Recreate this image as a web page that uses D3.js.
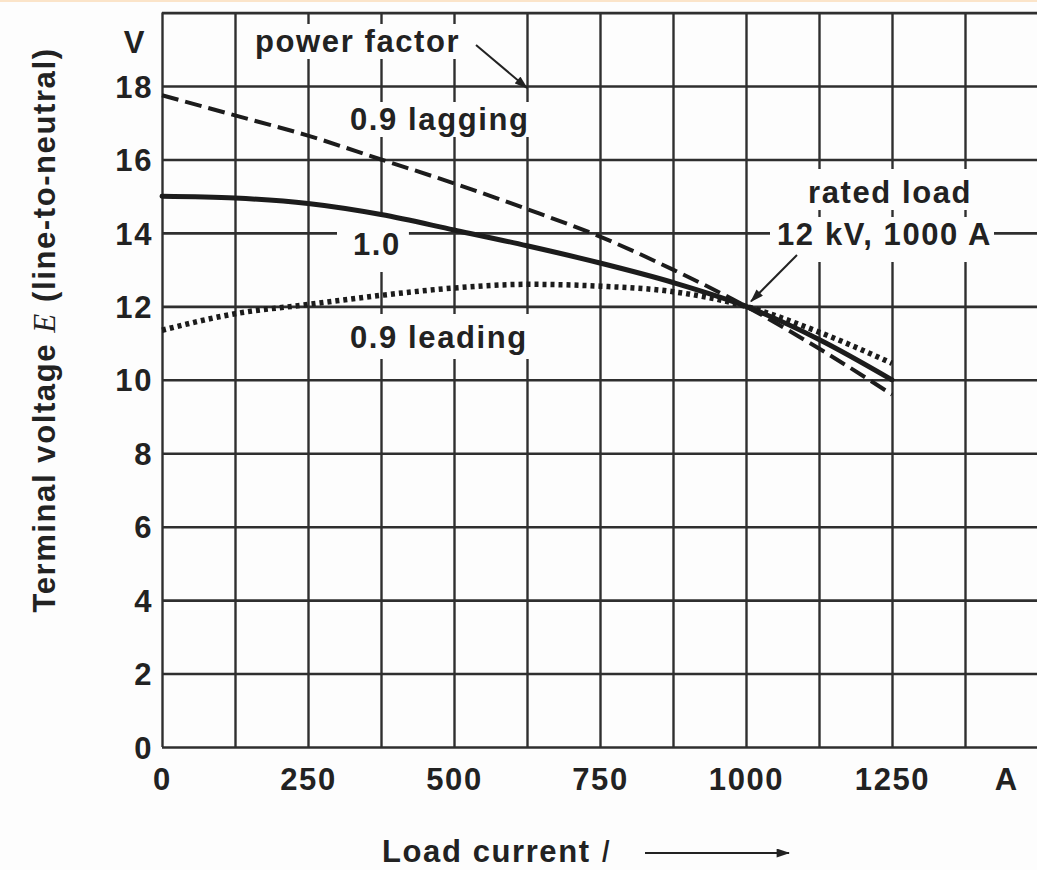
<!DOCTYPE html>
<html>
<head>
<meta charset="utf-8">
<script src="https://cdn.jsdelivr.net/npm/d3@7"></script>
<style>
  html, body { margin: 0; padding: 0; background: #fdfdfd; }
  svg { display: block; }
  text { font-family: "Liberation Sans", Arial, Helvetica, sans-serif; font-weight: bold; fill: #222; }
</style>
</head>
<body>
<svg id="chart" width="1037" height="870"></svg>
<script>
// ---- data ----
const currents = [0, 125, 250, 375, 500, 625, 750, 875, 1000, 1125, 1250];          // A
const lagging  = [17.75, 17.2, 16.65, 16.0, 15.35, 14.65, 13.9, 13.0, 12.0, 10.85, 9.6]; // pf 0.9 lagging (kV)
const unity    = [15.0, 14.95, 14.8, 14.5, 14.08, 13.65, 13.18, 12.65, 12.0, 11.1, 10.0]; // pf 1.0
const leading  = [11.35, 11.8, 12.05, 12.3, 12.5, 12.6, 12.55, 12.4, 12.0, 11.3, 10.45];  // pf 0.9 leading
const xGrid = [0, 125, 250, 375, 500, 625, 750, 875, 1000, 1125, 1250, 1375];
const yGrid = [0, 2, 4, 6, 8, 10, 12, 14, 16, 18, 20];
const xTickLabels = [0, 250, 500, 750, 1000, 1250];
const yTickLabels = [0, 2, 4, 6, 8, 10, 12, 14, 16, 18];
const ratedPoint = { current: 1000, voltage: 12 };

// ---- scales ----
const x = d3.scaleLinear().domain([0, 1500]).range([162, 1038]);
const y = d3.scaleLinear().domain([0, 20]).range([747, 12.6]);

const svg = d3.select("#chart");
svg.append("rect").attr("x", 0).attr("y", 0).attr("width", 1037).attr("height", 870).attr("fill", "#fdfdfd");
svg.append("rect").attr("x", 0).attr("y", 0).attr("width", 1037).attr("height", 2).attr("fill", "#fbe4c9");

const defs = svg.append("defs");
defs.append("marker").attr("id", "arrow").attr("viewBox", "0 0 12 8")
  .attr("refX", 11).attr("refY", 4).attr("markerWidth", 14).attr("markerHeight", 9)
  .attr("markerUnits", "userSpaceOnUse").attr("orient", "auto")
  .append("path").attr("d", "M0,0 L12,4 L0,8 Z").attr("fill", "#222");

// ---- grid via axes ----
const gridColor = "#2f2f2f";
const gx = svg.append("g").attr("transform", `translate(0,${y(0)})`)
  .call(d3.axisBottom(x).tickValues(xGrid).tickSize(-(y(0) - y(20))).tickFormat(""));
gx.select(".domain").remove();
gx.selectAll("line").attr("stroke", gridColor).attr("stroke-width", 2.4);

const gy = svg.append("g").attr("transform", `translate(${x(0)},0)`)
  .call(d3.axisLeft(y).tickValues(yGrid).tickSize(-(1037 - x(0))).tickFormat(""));
gy.select(".domain").remove();
gy.selectAll("line").attr("stroke", gridColor).attr("stroke-width", 2.6);

// ---- tick labels via axes ----
const FS = 31;
const LS = "1.6px";
const ax = svg.append("g").attr("transform", `translate(0,${y(0)})`)
  .call(d3.axisBottom(x).tickValues(xTickLabels).tickSize(0).tickPadding(0).tickFormat(d3.format("d")));
ax.select(".domain").remove();
ax.selectAll("text").attr("y", 43).attr("dy", null).attr("font-size", FS)
  .style("font-family", "'Liberation Sans', Arial, sans-serif").style("font-weight", "bold")
  .style("letter-spacing", LS).attr("fill", "#222");

const ay = svg.append("g").attr("transform", `translate(${x(0)},0)`)
  .call(d3.axisLeft(y).tickValues(yTickLabels).tickSize(0).tickPadding(0).tickFormat(d3.format("d")));
ay.select(".domain").remove();
ay.selectAll("text").attr("x", -9).attr("dy", "0.36em").attr("font-size", FS)
  .style("font-family", "'Liberation Sans', Arial, sans-serif").style("font-weight", "bold")
  .style("letter-spacing", LS).attr("fill", "#222");

// unit labels
svg.append("text").attr("x", x(1445)).attr("y", 790).attr("text-anchor", "middle")
  .attr("font-size", FS).text("A");
svg.append("text").attr("x", 134).attr("y", y(19.17) + 10).attr("text-anchor", "middle")
  .attr("font-size", FS).text("V");

// ---- label helper with white knock-out boxes ----
const boxLayer = svg.append("g");
const curveLayer = svg.append("g");
const labelLayer = svg.append("g");

function label(txt, px, py, pad) {
  const t = labelLayer.append("text").attr("x", px).attr("y", py)
    .attr("font-size", FS).style("letter-spacing", LS).text(txt);
  const b = t.node().getBBox();
  boxLayer.append("rect")
    .attr("x", b.x - pad[0]).attr("y", b.y - pad[1])
    .attr("width", b.width + pad[0] + pad[2]).attr("height", b.height + pad[1] + pad[3])
    .attr("fill", "#fdfdfd");
  return t;
}

label("power factor", 255, 52, [5, 0, 4, 0]);
label("0.9 lagging", 350, 130, [6, 0, 4, 0]);
label("1.0", 353, 255, [16, 10, 8, 10]);
label("0.9 leading", 350, 348, [6, 6, 4, 4]);
label("rated load", 808, 203, [38, 6, 30, 0]);
label("12 kV, 1000 A", 777, 245, [7, 0, 2, 10]);

// ---- curves ----
const line = d3.line().x(d => x(d[0])).y(d => y(d[1])).curve(d3.curveMonotoneX);
const series = [
  { vals: leading, dash: "4,4", width: 5.5, cap: "butt" },
  { vals: unity, dash: null, width: 5, cap: "round" },
  { vals: lagging, dash: "17,7", width: 4, cap: "butt" }
];
series.forEach(s => {
  curveLayer.append("path")
    .datum(currents.map((c, i) => [c, s.vals[i]]))
    .attr("d", line)
    .attr("fill", "none")
    .attr("stroke", "#1c1c1c")
    .attr("stroke-width", s.width)
    .attr("stroke-linecap", s.cap)
    .attr("stroke-dasharray", s.dash);
});

// ---- annotation arrows ----
svg.append("line").attr("x1", 476).attr("y1", 45).attr("x2", 527).attr("y2", 88)
  .attr("stroke", "#222").attr("stroke-width", 2).attr("marker-end", "url(#arrow)");
svg.append("line").attr("x1", 797).attr("y1", 255)
  .attr("x2", x(ratedPoint.current) + 5).attr("y2", y(ratedPoint.voltage) - 5)
  .attr("stroke", "#222").attr("stroke-width", 2).attr("marker-end", "url(#arrow)");

// ---- axis titles ----
const xt = svg.append("text").attr("x", 382).attr("y", 862).attr("font-size", FS).style("letter-spacing", LS);
xt.append("tspan").text("Load current ");
xt.append("tspan").attr("font-style", "italic").attr("font-weight", "normal").text("I");
svg.append("line").attr("x1", 645).attr("y1", 853).attr("x2", 789).attr("y2", 853)
  .attr("stroke", "#222").attr("stroke-width", 2).attr("marker-end", "url(#arrow)");

const yt = svg.append("text").attr("transform", "translate(55,330) rotate(-90)")
  .attr("text-anchor", "middle").attr("font-size", FS).style("letter-spacing", LS);
yt.append("tspan").text("Terminal voltage ");
yt.append("tspan").style("font-family", "'Liberation Serif', 'DejaVu Serif', serif")
  .attr("font-style", "italic").attr("font-weight", "normal").text("E");
yt.append("tspan").text(" (line-to-neutral)");
</script>
</body>
</html>
